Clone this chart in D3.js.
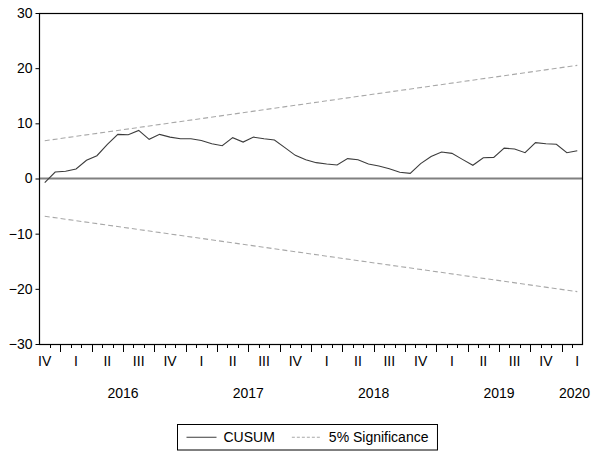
<!DOCTYPE html>
<html>
<head>
<meta charset="utf-8">
<script src="https://cdn.jsdelivr.net/npm/d3@7/dist/d3.min.js"></script>
<style>
  html, body { margin: 0; padding: 0; background: #fff; }
  svg { display: block; font-family: Arial, "Liberation Sans", sans-serif; }
</style>
</head>
<body>
<svg id="chart" width="592" height="453"></svg>
<script>
// ---- data ----
const startYear = 2015, startMonth = 11; // first observation: Nov 2015 (monthly)
const cusum = [-0.75, 1.18, 1.3, 1.72, 3.3, 4.13, 6.2, 8.0, 7.94, 8.72,
  7.1, 8.0, 7.5, 7.2, 7.2, 6.9, 6.3, 5.94, 7.4, 6.6,
  7.5, 7.2, 6.97, 5.6, 4.2, 3.4, 2.87, 2.63, 2.45, 3.6,
  3.4, 2.63, 2.26, 1.78, 1.12, 0.94, 2.7, 4.0, 4.8, 4.56,
  3.47, 2.39, 3.77, 3.83, 5.5, 5.34, 4.67, 6.49, 6.3, 6.2,
  4.67, 5.04];
const sigUpper = [6.84, 20.51];   // at first and last observation
const sigLower = [-6.84, -20.51];
const yTicks = [-30, -20, -10, 0, 10, 20, 30];
const quarterNames = ["I", "II", "III", "IV"];
const yearLabels = ["2016", "2017", "2018", "2019", "2020"];
const legendLabels = ["CUSUM", "5% Significance"];

// ---- layout ----
const L = 39.5, R = 582.5, T = 13, B = 344;
const n = cusum.length;
const svg = d3.select("#chart");
const x = d3.scaleLinear().domain([0, n]).range([L, R]);
const y = d3.scaleLinear().domain([-30, 30]).range([B, T]);
const FS = 14;

// zero line
svg.append("line").attr("x1", L).attr("x2", R).attr("y1", y(0)).attr("y2", y(0))
  .attr("stroke", "#808080").attr("stroke-width", 2);

// significance lines
const sigX = [0.5, n - 0.5];
[sigUpper, sigLower].forEach(s => {
  svg.append("path")
    .attr("d", d3.line().x((d, i) => x(sigX[i])).y(d => y(d))(s))
    .attr("fill", "none").attr("stroke", "#a8a8a8").attr("stroke-width", 1.1)
    .attr("stroke-dasharray", "5,3");
});

// CUSUM line
svg.append("path")
  .attr("d", d3.line().x((d, i) => x(i + 0.5)).y(d => y(d))(cusum))
  .attr("fill", "none").attr("stroke", "#3c3c3c").attr("stroke-width", 1.1);

// frame
svg.append("rect").attr("x", L).attr("y", T + 0.5).attr("width", R - L).attr("height", B - T)
  .attr("fill", "none").attr("stroke", "#000").attr("stroke-width", 1.2);

// y axis
const yAxis = svg.append("g").attr("transform", `translate(${L},0)`)
  .call(d3.axisLeft(y).tickValues(yTicks).tickSize(4).tickPadding(3).tickFormat(d3.format("d")));
yAxis.select(".domain").remove();
yAxis.selectAll("line").attr("stroke", "#000");
yAxis.selectAll("text").attr("font-size", FS).attr("fill", "#000")
  .attr("font-family", "Arial, 'Liberation Sans', sans-serif");

// x axis ticks (monthly small ticks, quarterly long ticks)
const monthIdx = d3.range(1, n);
const gx = svg.append("g");
monthIdx.forEach(m => {
  const mon = (startMonth - 1 + m) % 12; // 0 = Jan
  const isQ = mon % 3 === 0;
  gx.append("line").attr("x1", Math.round(x(m)) + 0.5).attr("x2", Math.round(x(m)) + 0.5)
    .attr("y1", B).attr("y2", B + (isQ ? 8 : 4)).attr("stroke", "#000").attr("stroke-width", 1);
});

// quarter labels at centre of the quarter's middle month
for (let m = -2; m < n; m++) {
  const mon = ((startMonth - 1 + m) % 12 + 12) % 12;
  if (mon % 3 === 1 && m >= 0 && m < n) {
    const q = Math.floor(mon / 3);
    gx.append("text").attr("x", x(m + 0.5)).attr("y", 366)
      .attr("text-anchor", "middle").attr("font-size", FS).text(quarterNames[q]);
  }
}

// year labels at centre of year, clamped inside picture
yearLabels.forEach(yr => {
  const s = (+yr - startYear) * 12 - (startMonth - 1);
  let cx = x(s + 6);
  cx = Math.min(cx, 574.5);
  gx.append("text").attr("x", cx).attr("y", 397.5)
    .attr("text-anchor", "middle").attr("font-size", FS).text(yr);
});

// legend
const lg = svg.append("g");
const lx = 177.5, ly = 424.5, lh = 25.5;
const items = lg.append("g");
let cx = lx + 9;
const cy = ly + lh / 2;
const parts = [];
legendLabels.forEach((lab, i) => {
  items.append("line").attr("x1", cx).attr("x2", cx + 30).attr("y1", cy).attr("y2", cy)
    .attr("stroke", i === 0 ? "#3c3c3c" : "#a8a8a8").attr("stroke-width", 1)
    .attr("stroke-dasharray", i === 0 ? null : "3,2");
  cx += 37;
  const t = items.append("text").attr("x", cx).attr("y", cy + 5).attr("font-size", FS).text(lab);
  cx += t.node().getComputedTextLength();
  cx += (i === 0 ? 17 : 9);
});
lg.insert("rect", ":first-child").attr("x", lx).attr("y", ly).attr("width", cx - lx).attr("height", lh)
  .attr("fill", "#fff").attr("stroke", "#000").attr("stroke-width", 1);
</script>
</body>
</html>
